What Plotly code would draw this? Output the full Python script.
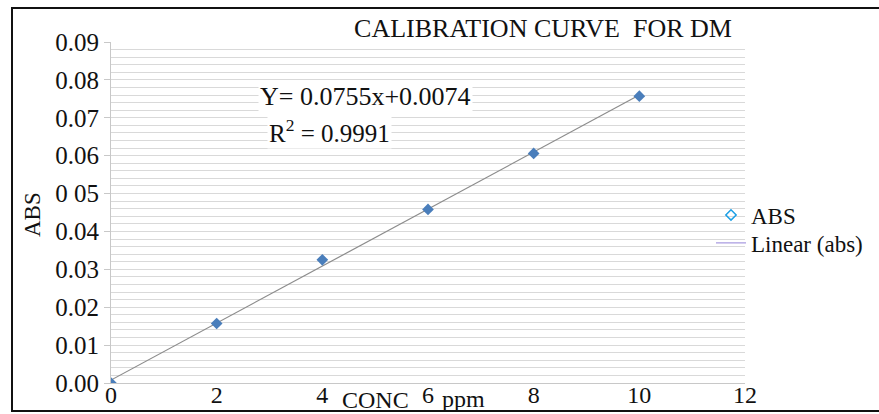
import numpy as np
import plotly.graph_objects as go

# Data
conc_ppm = [0, 2, 4, 6, 8, 10]
abs_values = [0.0, 0.0157, 0.0325, 0.0458, 0.0606, 0.0757]
y_tick_vals = [0.0, 0.01, 0.02, 0.03, 0.04, 0.05, 0.06, 0.07, 0.08, 0.09]
y_tick_text = ["0.00", "0.01", "0.02", "0.03", "0.04", "0 05", "0.06", "0.07", "0.08", "0.09"]
x_tick_vals = [0, 2, 4, 6, 8, 10, 12]
equation_text = "Y= 0.0755x+0.0074"
r2_text = "R<sup>2</sup> = 0.9991"

# Linear trendline fitted to the data
slope, intercept = np.polyfit(conc_ppm, abs_values, 1)
trend_x = [conc_ppm[0], conc_ppm[-1]]
trend_y = [slope * v + intercept for v in trend_x]

W, H = 879, 414
L, R, T, B = 111, 134, 42, 31
pw, ph = W - L - R, H - T - B

def px(xp):
    return (xp - L) / pw

def py(yp):
    return (H - B - yp) / ph

SERIF = "Liberation Serif"
INK = "#111111"

fig = go.Figure()
fig.add_trace(go.Scatter(
    x=trend_x, y=trend_y, mode="lines",
    line=dict(color="#8c8c8c", width=1.2), showlegend=False, hoverinfo="skip"))
fig.add_trace(go.Scatter(
    x=conc_ppm, y=abs_values, mode="markers",
    marker=dict(symbol="diamond", size=9, color="#4a7ebb"),
    showlegend=False))
# legend entries as shown in the picture
fig.add_trace(go.Scatter(
    x=[None], y=[None], mode="markers", name="ABS", legend="legend",
    marker=dict(symbol="diamond-open", size=8, color="#1ea0e6", line=dict(width=1.5))))
fig.add_trace(go.Scatter(
    x=[None], y=[None], mode="lines", name="Linear (abs)", legend="legend2",
    line=dict(color="#a99be0", width=1.2)))

legend_common = dict(xanchor="left", yanchor="middle", bgcolor="rgba(0,0,0,0)",
                     itemwidth=30, font=dict(family=SERIF, size=23, color=INK))

fig.update_layout(
    width=W, height=H,
    margin=dict(l=L, r=R, t=T, b=B, autoexpand=False),
    paper_bgcolor="white", plot_bgcolor="white",
    font=dict(family=SERIF, color=INK, size=22),
    title=dict(text="CALIBRATION CURVE&nbsp;&nbsp;FOR DM", x=543 / W, xanchor="center",
               y=1 - 28 / H, yanchor="middle",
               font=dict(family=SERIF, size=26, color=INK)),
    legend=dict(x=px(711), y=py(215), **legend_common),
    legend2=dict(x=px(711), y=py(243), **legend_common),
    xaxis=dict(range=[0, 12], tickvals=x_tick_vals, showgrid=False, zeroline=False,
               showline=True, linecolor="#c8c8c8", linewidth=1, ticks="",
               automargin=False, ticklabelstandoff=-10,
               tickfont=dict(family=SERIF, size=24, color=INK)),
    yaxis=dict(range=[0, 0.09], tickvals=y_tick_vals, ticktext=y_tick_text,
               showgrid=True, gridcolor="#d9d9d9", gridwidth=1, zeroline=False,
               showline=True, linecolor="#c8c8c8", linewidth=1,
               ticks="outside", ticklen=6, tickcolor="#c8c8c8",
               automargin=False,
               tickfont=dict(family=SERIF, size=25, color=INK),
               minor=dict(dtick=0.002, showgrid=True, gridcolor="#d9d9d9", gridwidth=1)),
    showlegend=True,
)

def note(xp, yp, text, size, **kw):
    fig.add_annotation(x=px(xp), y=py(yp), xref="paper", yref="paper", text=text,
                       showarrow=False, xanchor="center", yanchor="middle",
                       font=dict(family=SERIF, size=size, color=INK), **kw)

note(32, 215, "ABS", 23, textangle=-90)
note(375, 400, "CONC", 24)
note(463, 399, "ppm", 24)
note(365, 97, equation_text, 26, bgcolor="white")
note(329, 131, r2_text, 25, bgcolor="white")

# outer frame (right edge falls outside the picture, as in the reference)
fig.add_shape(type="rect", xref="paper", yref="paper",
              x0=px(12), x1=px(884), y0=py(411), y1=py(8),
              line=dict(color=INK, width=2), fillcolor="rgba(0,0,0,0)", layer="below")

fig.write_html("out.html", config={"displayModeBar": False},
               post_script="document.body.style.margin='0';")
